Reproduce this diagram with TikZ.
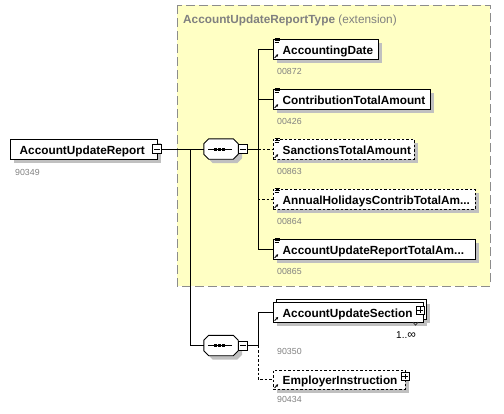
\documentclass[tikz,border=0pt]{standalone}
\usepackage{fontspec}
\setmainfont{Liberation Sans}
\usetikzlibrary{shadows,arrows.meta}
\definecolor{boxyellow}{RGB}{255,255,196}
\definecolor{dashgray}{RGB}{140,140,140}
\definecolor{numgray}{RGB}{128,128,128}
\definecolor{shadowgray}{RGB}{192,192,192}
\newcommand\icoLines[1]{\draw[line width=0.8pt] ([shift={(1.6,-0.4)}]#1.north west) -- ++(5,0) ([shift={(1.6,1.8)}]#1.north west) -- ++(5,0) ([shift={(1.6,4)}]#1.north west) -- ++(4,0);}
\newcommand\icoArrow[1]{\draw[line width=0.8pt,-{Stealth[length=2.6pt,width=2.6pt]}] ([shift={(1.6,-1.6)}]#1.south west) -- ++(3.6,-3.6);}
\newcommand\seqShape[1]{%
  \path[draw=black,fill=white,line width=0.9pt,eshadow]
    ([shift={(5,0)}]#1.north west) -- ([shift={(-5,0)}]#1.north east) -- ([shift={(0,5)}]#1.north east)
    -- ([shift={(0,-5)}]#1.south east) -- ([shift={(-5,0)}]#1.south east) -- ([shift={(5,0)}]#1.south west)
    -- ([shift={(0,-5)}]#1.south west) -- ([shift={(0,5)}]#1.north west) -- cycle;
  \draw[line width=0.8pt] ([shift={(4.5,0)}]#1.west) -- ([shift={(-6.5,0)}]#1.east);
  \fill ([shift={(-2,0)}]#1.center) ++(-5.5,-1.5) rectangle ++(3,3);
  \fill ([shift={(-2,0)}]#1.center) ++(-1.5,-1.5) rectangle ++(3,3);
  \fill ([shift={(-2,0)}]#1.center) ++(2.5,-1.5) rectangle ++(3,3);}
\begin{document}
\begin{tikzpicture}[x=1pt,y=-1pt,
  eshadow/.style={drop shadow={shadow xshift=4pt,shadow yshift=-4pt,fill=shadowgray,opacity=1}},
  elembox/.style={draw=black,fill=white,line width=0.9pt,rectangle,inner sep=0pt,minimum height=20pt,anchor=west,eshadow},
  optbox/.style={elembox,dash pattern=on 2.5pt off 2pt},
  etext/.style={anchor=base west,inner sep=0pt,font=\bfseries\fontsize{11.8}{13}\selectfont},
  numtext/.style={anchor=base west,inner sep=0pt,text=numgray,font=\fontsize{8.8}{10}\selectfont},
  symbox/.style={draw=black,fill=white,line width=0.8pt,rectangle,inner sep=0pt,minimum size=9pt},
  conn/.style={line width=0.8pt},
  optconn/.style={line width=0.8pt,dash pattern=on 2.5pt off 2pt},
  seqnode/.style={rectangle,inner sep=0pt,minimum width=34pt,minimum height=20pt}
]
\useasboundingbox (0,0) rectangle (504,413);
% extension area
\path[fill=boxyellow,draw=dashgray,line width=1pt,dash pattern=on 9pt off 4pt] (177,5) rectangle (490,286);
\node[anchor=base west,inner sep=0pt,text=numgray,font=\fontsize{11.8}{13}\selectfont] (hdr) at (183,23.5) {\textbf{AccountUpdateReportType} (extension)};

% junction coordinates
\coordinate (j1) at (190,149);
\coordinate (j2) at (258,149);
\coordinate (j3) at (258,345.5);

% root
\node[elembox,minimum width=147pt] (root) at (10,149) {};
\node[etext] (roott) at (19.5,154.3) {AccountUpdateReport};
\node[numtext] (rootn) at (15,175) {90349};
\node[symbox] (rootm) at (157,149) {};
\draw[line width=0.8pt] ([shift={(2,0)}]rootm.west) -- ([shift={(-2,0)}]rootm.east);

% sequence 1
\node[seqnode] (s1) at (221,149) {};
\seqShape{s1}
\node[symbox] (s1m) at (243,149) {};
\draw[line width=0.8pt] ([shift={(2,0)}]s1m.west) -- ([shift={(-2,0)}]s1m.east);

% sequence 2
\node[seqnode] (s2) at (221,345.5) {};
\seqShape{s2}
\node[symbox] (s2m) at (243,345.5) {};
\draw[line width=0.8pt] ([shift={(2,0)}]s2m.west) -- ([shift={(-2,0)}]s2m.east);

% connectors
\draw[conn] (rootm.east) -- (s1.west);
\draw[conn] (j1) |- (s2.west);
\draw[conn] (s1m.east) -- (j2);
\draw[conn] (s2m.east) -- (j3);

% children of sequence 1
\node[elembox,minimum width=105pt] (ad) at (273,49) {};
\node[etext] (adt) at (282.5,54.3) {AccountingDate};
\node[numtext] (adn) at (277,74.5) {00872};
\icoLines{ad}\icoArrow{ad}

\node[elembox,minimum width=157pt] (cta) at (273,99) {};
\node[etext] (ctat) at (282.5,104.3) {ContributionTotalAmount};
\node[numtext] (ctan) at (277,124.5) {00426};
\icoLines{cta}\icoArrow{cta}

\node[optbox,minimum width=141pt] (sta) at (273,149) {};
\node[etext] (stat) at (282.5,154.3) {SanctionsTotalAmount};
\node[numtext] (stan) at (277,174.5) {00863};
\icoLines{sta}\icoArrow{sta}

\node[optbox,minimum width=202pt] (ah) at (273,199) {};
\node[etext] (aht) at (282.5,204.3) {AnnualHolidaysContribTotalAm...};
\node[numtext] (ahn) at (277,224.5) {00864};
\icoLines{ah}\icoArrow{ah}

\node[elembox,minimum width=202pt] (aur) at (273,249) {};
\node[etext] (aurt) at (282.5,254.3) {AccountUpdateReportTotalAm...};
\node[numtext] (aurn) at (277,274.5) {00865};
\icoLines{aur}\icoArrow{aur}

\draw[optconn] (j2) |- (sta.west);
\draw[optconn] (j2) |- (ah.west);
\draw[conn] (j2) |- (ad.west);
\draw[conn] (j2) |- (cta.west);
\draw[conn] (j2) |- (aur.west);

% children of sequence 2
\node[rectangle,inner sep=0pt,minimum width=150pt,minimum height=19pt,anchor=west] (ausb) at (276,309.5) {};
\node[rectangle,inner sep=0pt,minimum width=150pt,minimum height=19pt,anchor=west] (aus) at (273,312.5) {};
\fill[shadowgray] ([shift={(4,4)}]ausb.north west) rectangle ([shift={(4,4)}]ausb.south east);
\fill[shadowgray] ([shift={(4,4)}]aus.north west) rectangle ([shift={(4,4)}]aus.south east);
\draw[line width=0.9pt,fill=white] (ausb.north west) rectangle (ausb.south east);
\draw[line width=0.9pt,fill=white] (aus.north west) rectangle (aus.south east);
\node[etext] (aust) at (282.5,317.8) {AccountUpdateSection};
\icoArrow{aus}
\node[symbox,minimum size=8pt] (ausp) at (420,310) {};
\draw[line width=0.8pt] ([shift={(1.8,0)}]ausp.west) -- ([shift={(-1.8,0)}]ausp.east) ([shift={(0,1.8)}]ausp.north) -- ([shift={(0,-1.8)}]ausp.south);
\draw[line width=0.7pt,black!80] ([shift={(140,0)}]aus.south west) -- ++(2.5,3) -- ++(2.5,-3);
\node[anchor=base west,inner sep=0pt,font=\fontsize{10}{11}\selectfont] (ausm) at (396,338.5) {1..\raisebox{0.2pt}{\fontsize{12}{12}\selectfont ∞}};
\node[numtext] (ausn) at (277,354.5) {90350};

\node[optbox,minimum width=132pt,minimum height=19pt] (ei) at (273,379.5) {};
\node[etext] (eit) at (282.5,384.8) {EmployerInstruction};
\icoArrow{ei}
\node[symbox,minimum size=8pt] (eip) at (405,376.5) {};
\draw[line width=0.8pt] ([shift={(1.8,0)}]eip.west) -- ([shift={(-1.8,0)}]eip.east) ([shift={(0,1.8)}]eip.north) -- ([shift={(0,-1.8)}]eip.south);
\node[numtext] (ein) at (277,402) {90434};

\draw[optconn] (j3) |- (ei.west);
\draw[conn] (j3) |- (aus.west);
\end{tikzpicture}
\end{document}
